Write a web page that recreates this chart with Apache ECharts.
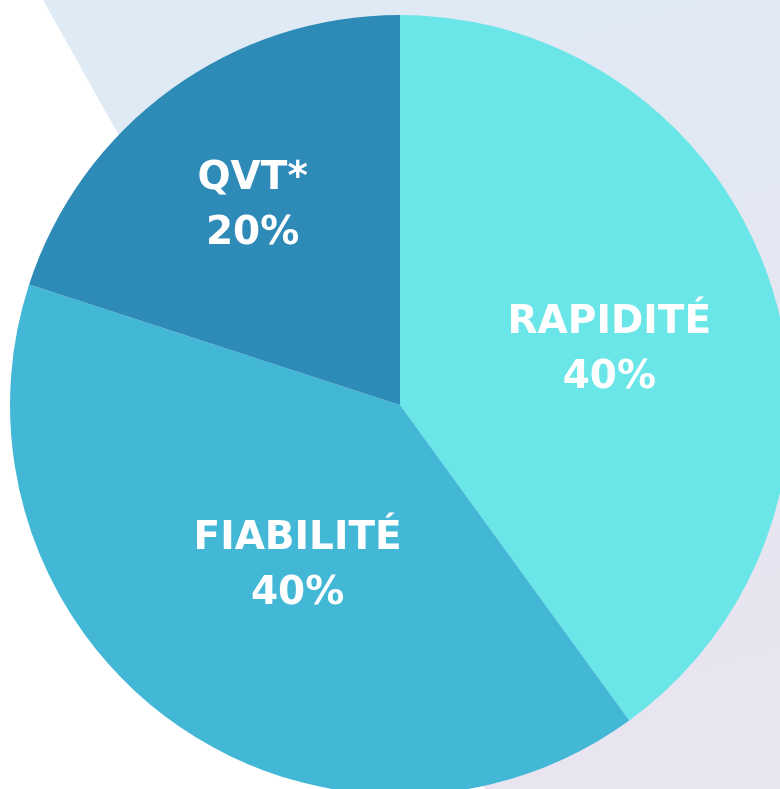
<!DOCTYPE html>
<html>
<head>
<meta charset="utf-8">
<script src="https://cdn.jsdelivr.net/npm/echarts@6/dist/echarts.min.js"></script>
<style>
    html, body { margin: 0; padding: 0; background: #ffffff; }
    #chart { width: 780px; height: 789px; }
</style>
</head>
<body>
<div id="chart"></div>
<script>
// données du camembert
const categories = ['RAPIDITÉ', 'FIABILITÉ', 'QVT*'];
const values = [40, 40, 20];
const colors = ['#6ae5e8', '#42b7d6', '#2e8bb8'];
// décalage des étiquettes par rapport à la position "inside"
const labelOffsets = [[21, 7], [14, 1], [-31, -38]];

const myChart = echarts.init(document.getElementById('chart'));

const option = {
    animation: false,
    backgroundColor: '#ffffff',
    graphic: [
        {
            type: 'polygon',
            z: -10,
            shape: { points: [[43, 0], [780, 0], [780, 789], [485, 789]] },
            style: {
                fill: new echarts.graphic.LinearGradient(0, 0, 0.3, 1, [
                    { offset: 0, color: '#deebf5' },
                    { offset: 1, color: '#e8e4f0' }
                ])
            }
        }
    ],
    series: [
        {
            type: 'pie',
            center: [400, 405],
            radius: [0, 390],
            startAngle: 90,
            clockwise: true,
            avoidLabelOverlap: false,
            silent: true,
            label: {
                show: true,
                position: 'inside',
                formatter: '{b}\n{d}%',
                color: '#ffffff',
                fontFamily: 'DejaVu Sans',
                fontWeight: 'bold',
                fontSize: 39,
                lineHeight: 55,
                align: 'center'
            },
            labelLine: { show: false },
            data: categories.map((name, i) => ({
                name: name,
                value: values[i],
                itemStyle: { color: colors[i] },
                label: { offset: labelOffsets[i] }
            }))
        }
    ]
};

myChart.setOption(option);
window.addEventListener('resize', () => {
    myChart.resize();
});
</script>
</body>
</html>
